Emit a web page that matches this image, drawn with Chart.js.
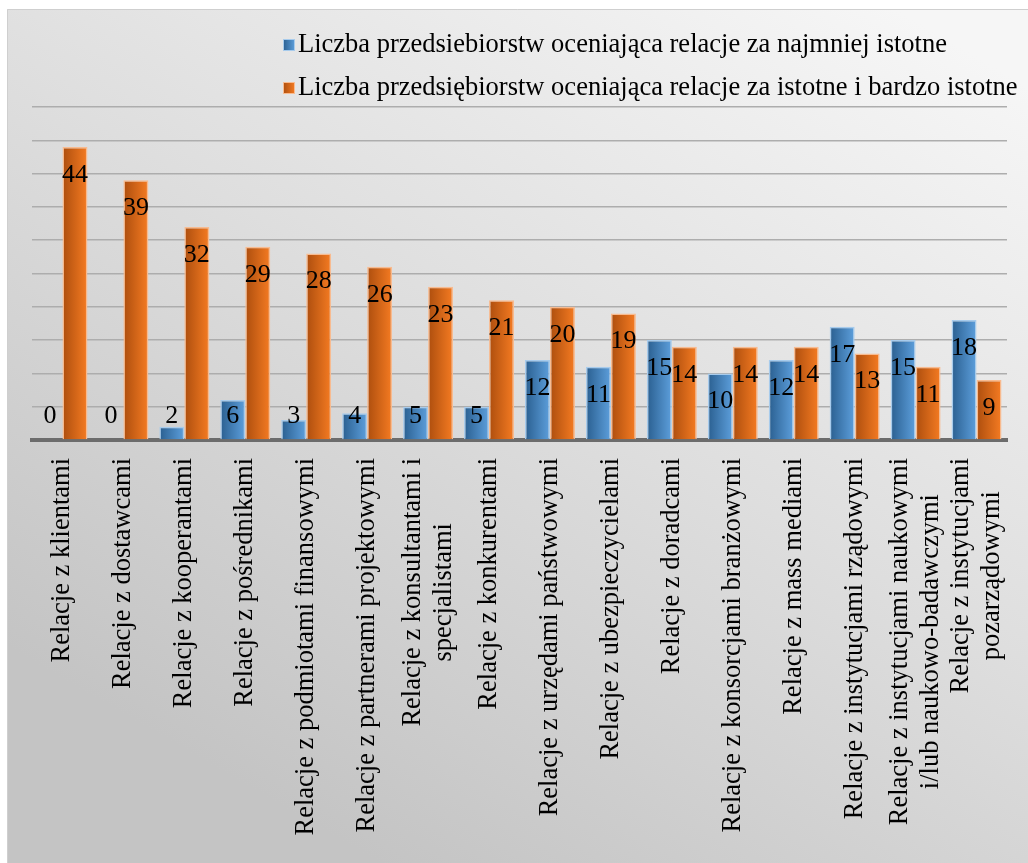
<!DOCTYPE html>
<html>
<head>
<meta charset="utf-8">
<script src="https://cdn.jsdelivr.net/npm/chart.js@4/dist/chart.umd.min.js"></script>
<style>
  html, body { margin: 0; padding: 0; background: #fff; }
  #chart { display: block; }
</style>
</head>
<body>
<canvas id="chart" width="1028" height="863"></canvas>
<script>
const categories = [
  ['Relacje z klientami'],
  ['Relacje z dostawcami'],
  ['Relacje z kooperantami'],
  ['Relacje z pośrednikami'],
  ['Relacje z podmiotami finansowymi'],
  ['Relacje z partnerami projektowymi'],
  ['Relacje z konsultantami i', 'specjalistami'],
  ['Relacje z konkurentami'],
  ['Relacje z urzędami państwowymi'],
  ['Relacje z ubezpieczycielami'],
  ['Relacje z doradcami'],
  ['Relacje z konsorcjami branżowymi'],
  ['Relacje z mass mediami'],
  ['Relacje z instytucjami rządowymi'],
  ['Relacje z instytucjami naukowymi', 'i/lub naukowo-badawczymi'],
  ['Relacje z instytucjami', 'pozarządowymi']
];
const leastImportant = [0, 0, 2, 6, 3, 4, 5, 5, 12, 11, 15, 10, 12, 17, 15, 18];
const important = [44, 39, 32, 29, 28, 26, 23, 21, 20, 19, 14, 14, 14, 13, 11, 9];
const seriesNames = [
  'Liczba przedsiebiorstw oceniająca relacje za najmniej istotne',
  'Liczba przedsiębiorstw oceniająca relacje za istotne i bardzo istotne'
];
const yTicks = { min: 0, max: 50, step: 5 };

const SERIF = '"Liberation Serif", "Times New Roman", serif';
const CAT_PCT = 0.82;

// horizontal gradient across one bar, computed from the x scale
function barFill(dark, light) {
  return (c) => {
    const xs = c.chart.scales.x;
    if (c.type !== 'data' || !xs) return light;
    const center = xs.getPixelForValue(c.dataIndex);
    const half = (xs.right - xs.left) / categories.length * CAT_PCT / 2;
    if (!Number.isFinite(center) || !Number.isFinite(half) || half <= 0) return light;
    const left = c.datasetIndex === 0 ? center - half : center;
    const g = c.chart.ctx.createLinearGradient(left, 0, left + half, 0);
    g.addColorStop(0, dark);
    g.addColorStop(1, light);
    return g;
  };
}

const palette = [
  { dark: '#2a5f90', light: '#5d9fdc', edge: '#a7cbec' },
  { dark: '#ad4e0e', light: '#f57b22', edge: '#f8bb90' }
];

const backgroundPlugin = {
  id: 'bg',
  beforeDraw(chart) {
    const { ctx, width, height } = chart;
    ctx.save();
    ctx.fillStyle = '#ffffff';
    ctx.fillRect(0, 0, width, height);
    const g = ctx.createLinearGradient(880, 0, 380, height);
    g.addColorStop(0, '#f6f6f6');
    g.addColorStop(0.5, '#dedede');
    g.addColorStop(1, '#c4c4c4');
    ctx.fillStyle = g;
    ctx.fillRect(7, 9, width - 7, height - 9);
    ctx.strokeStyle = '#cfcfcf';
    ctx.lineWidth = 1;
    ctx.beginPath();
    ctx.moveTo(7.5, height);
    ctx.lineTo(7.5, 9.5);
    ctx.lineTo(width, 9.5);
    ctx.stroke();
    ctx.restore();
  }
};

// value labels: inside the top of the bar, or just above the axis when the bar is short
const valueLabels = {
  id: 'valueLabels',
  afterDatasetsDraw(chart) {
    const { ctx, chartArea } = chart;
    ctx.save();
    ctx.font = '26px ' + SERIF;
    ctx.fillStyle = '#000';
    ctx.textAlign = 'center';
    ctx.textBaseline = 'middle';
    chart.data.datasets.forEach((ds, di) => {
      chart.getDatasetMeta(di).data.forEach((bar, i) => {
        const y = Math.min(bar.y + 28, chartArea.bottom - 24);
        ctx.fillText(String(ds.data[i]), bar.x, y);
      });
    });
    ctx.restore();
  }
};

// rotated category labels, lines centred on each other like the original
const categoryLabels = {
  id: 'categoryLabels',
  afterDraw(chart) {
    const { ctx, chartArea } = chart;
    const xs = chart.scales.x;
    const lineH = 31;
    ctx.save();
    ctx.font = '26.5px ' + SERIF;
    ctx.fillStyle = '#000';
    ctx.textAlign = 'center';
    ctx.textBaseline = 'middle';
    categories.forEach((lines, i) => {
      const x = xs.getPixelForTick(i);
      const w = Math.max(...lines.map(l => ctx.measureText(l).width));
      ctx.save();
      ctx.translate(x, chartArea.bottom + 18);
      ctx.rotate(-Math.PI / 2);
      lines.forEach((l, j) => {
        ctx.fillText(l, -w / 2, (j - (lines.length - 1) / 2) * lineH);
      });
      ctx.restore();
    });
    ctx.restore();
  }
};

const legendPlugin = {
  id: 'legendBox',
  afterDraw(chart) {
    const { ctx } = chart;
    ctx.save();
    ctx.font = '26.5px ' + SERIF;
    ctx.textAlign = 'left';
    ctx.textBaseline = 'middle';
    seriesNames.forEach((name, i) => {
      const y = 45 + i * 43;
      const p = palette[i];
      const g = ctx.createLinearGradient(283, 0, 295, 0);
      g.addColorStop(0, p.dark);
      g.addColorStop(1, p.light);
      ctx.fillStyle = g;
      ctx.fillRect(283, y - 6, 12, 12);
      ctx.strokeStyle = p.edge;
      ctx.lineWidth = 1;
      ctx.strokeRect(283.5, y - 5.5, 11, 11);
      ctx.fillStyle = '#000';
      ctx.fillText(name, 298, y);
    });
    ctx.restore();
  }
};

new Chart(document.getElementById('chart'), {
  type: 'bar',
  data: {
    labels: categories,
    datasets: [
      {
        label: seriesNames[0],
        data: leastImportant,
        backgroundColor: barFill(palette[0].dark, palette[0].light),
        borderColor: palette[0].edge,
        borderWidth: 1.5,
        barPercentage: 1,
        categoryPercentage: CAT_PCT
      },
      {
        label: seriesNames[1],
        data: important,
        backgroundColor: barFill(palette[1].dark, palette[1].light),
        borderColor: palette[1].edge,
        borderWidth: 1.5,
        barPercentage: 1,
        categoryPercentage: CAT_PCT
      }
    ]
  },
  options: {
    responsive: false,
    animation: false,
    layout: { padding: { left: 32, right: 21, top: 107, bottom: 415 } },
    plugins: {
      legend: { display: false },
      tooltip: { enabled: false }
    },
    scales: {
      x: {
        grid: { display: false },
        ticks: { display: false },
        border: { display: true, color: '#6c6c6c', width: 4 }
      },
      y: {
        min: yTicks.min,
        max: yTicks.max,
        ticks: { display: false, stepSize: yTicks.step },
        grid: { color: '#adadad', lineWidth: 1.5, drawTicks: false },
        border: { display: false }
      }
    }
  },
  plugins: [backgroundPlugin, valueLabels, categoryLabels, legendPlugin]
});
</script>
</body>
</html>
